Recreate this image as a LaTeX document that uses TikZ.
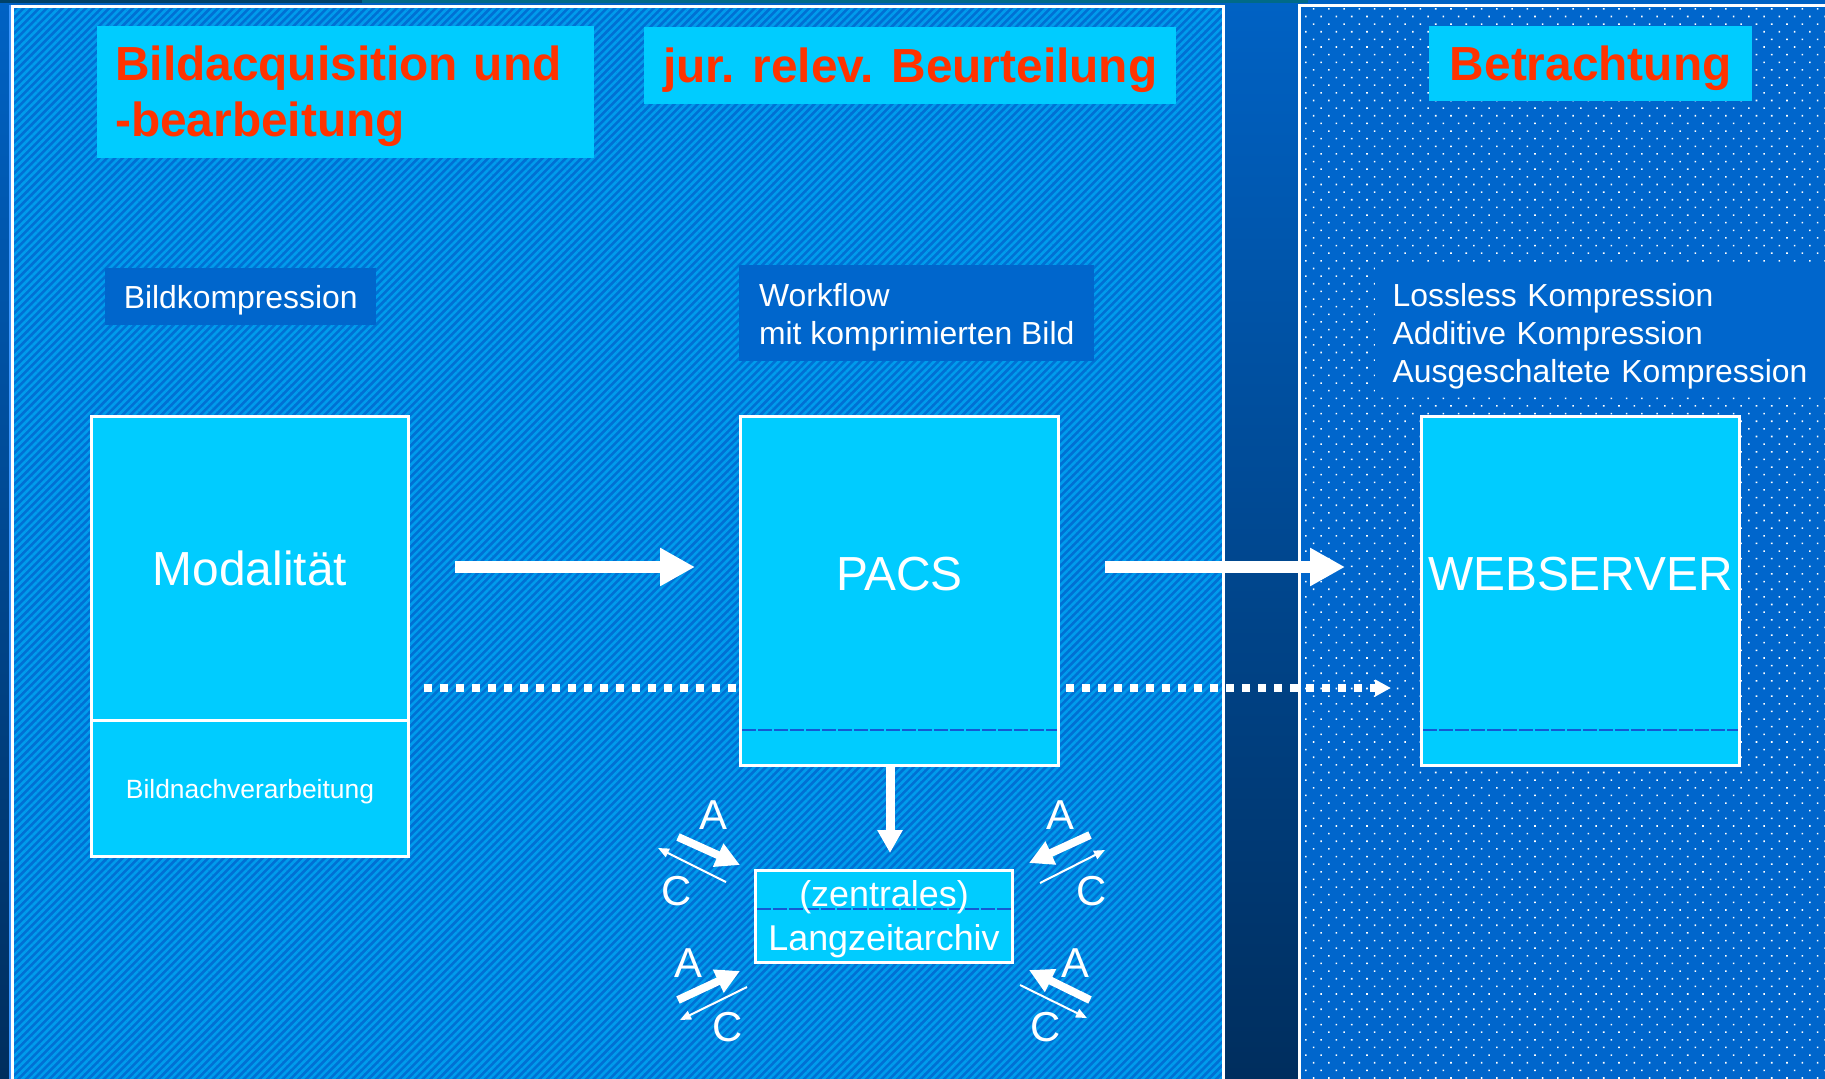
\documentclass[tikz,border=0pt]{standalone}
\usepackage{fontspec}
\setmainfont{Liberation Sans}
\usetikzlibrary{arrows.meta,patterns.meta,calc}

\definecolor{bgtop}{RGB}{0,98,196}
\definecolor{bgbot}{RGB}{0,46,94}
\definecolor{hatchbase}{RGB}{0,112,212}
\definecolor{hatchline}{RGB}{0,156,236}
\definecolor{dotpanel}{RGB}{0,102,204}
\definecolor{boxcyan}{RGB}{0,204,255}
\definecolor{titlered}{RGB}{255,51,0}
\definecolor{labelblue}{RGB}{0,102,204}
\definecolor{sepblue}{RGB}{20,90,210}
\definecolor{topteal}{RGB}{0,106,136}
\definecolor{topdark}{RGB}{0,66,104}
\definecolor{edgeblue}{RGB}{60,150,255}

\begin{document}
\begin{tikzpicture}[x=1bp,y=-1bp,
  titlebox/.style={fill=boxcyan, inner sep=0pt},
  titletext/.style={text=titlered, inner sep=0pt,
    font=\fontsize{48}{56}\selectfont\bfseries},
  labelbox/.style={fill=labelblue, inner sep=0pt},
  labeltext/.style={text=white, inner sep=0pt,
    font=\fontsize{32}{38.5}\selectfont},
  cbox/.style={fill=boxcyan, draw=white, line width=3bp, inner sep=0pt, text=white},
  bigtext/.style={text=white, inner sep=0pt, font=\fontsize{48}{56}\selectfont},
  flow/.style={draw=white, line width=12bp, -{Triangle[length=35bp,width=36bp]}},
  downflow/.style={draw=white, line width=9bp, -{Triangle[length=23bp,width=24bp]}},
  dotflow/.style={draw=white, line width=8bp, dash pattern=on 8bp off 8bp},
  sepline/.style={draw=sepblue, line width=1.2bp, dash pattern=on 14bp off 2bp},
  thickac/.style={draw=white, line width=8bp, -{Triangle[length=24bp,width=24bp]}},
  thinac/.style={draw=white, line width=2bp, -{Triangle[length=11bp,width=9bp]}},
  acletter/.style={text=white, inner sep=0pt, font=\fontsize{42}{48}\selectfont}]

\useasboundingbox (0,0) rectangle (1825,1078);
\clip (0,0) rectangle (1825,1078);

% background and top strip
\shade[top color=bgtop, bottom color=bgbot] (0,0) rectangle (1825,1078);
\fill[topteal] (0,0) rectangle (1308,3);
\fill[topdark] (0,0) rectangle (362,3);

% left panel: diagonal hatching
\fill[hatchbase] (12,6) rectangle (1223,1090);
\fill[pattern={Lines[angle=45,distance=5.5bp,line width=2.6bp]}, pattern color=hatchline]
  (12,6) rectangle (1223,1090);
\draw[edgeblue, line width=2bp] (10,1090) -- (10,5);
\draw[white, line width=3bp] (12.5,1090) -- (12.5,6) -- (1223,6) -- (1223,1090);

% right panel: dotted raster
\fill[dotpanel] (1299,5) rectangle (1830,1090);
\fill[pattern={Dots[angle=45,distance=10.8bp,radius=1.1bp]}, pattern color=white]
  (1299,5) rectangle (1830,1090);
\draw[white, line width=3bp] (1299,1090) -- (1299,5) -- (1830,5);

% headings
\node[titlebox, minimum width=497bp, minimum height=132bp, anchor=north west] (t1) at (97,26) {};
\node[titletext, text width=461bp, align=left] (t1text) at ($(t1.center)+(0,4)$)
  {Bildacquisition und\\-bearbeitung};
\node[titlebox, titletext, text height=34.4bp, text depth=0pt,
  minimum width=532bp, minimum height=77bp, anchor=north west]
  (t2) at (644,27) {jur. relev. Beurteilung};
\node[titlebox, titletext, text height=34.4bp, text depth=0pt,
  minimum width=323bp, minimum height=75bp, anchor=north west]
  (t3) at (1429,26) {Betrachtung};

% notes
\node[labelbox, labeltext, text height=22.9bp, text depth=0pt,
  minimum width=271bp, minimum height=57bp, anchor=north west]
  (lab1) at (105,268) {Bildkompression};
\node[labelbox, minimum width=355bp, minimum height=96bp, anchor=north west] (lab2) at (739,265) {};
\node[labeltext, align=left] (lab2text) at ($(lab2.center)+(0,4)$)
  {Workflow\\mit komprimierten Bild};
\node[labelbox, minimum width=455bp, minimum height=132bp, anchor=north west] (lab3) at (1375,265) {};
\node[labeltext, text width=420bp, align=left] (lab3text) at ($(lab3.center)+(0,5)$)
  {Lossless Kompression\\Additive Kompression\\Ausgeschaltete Kompression};

% main boxes
\node[cbox, bigtext, minimum width=317bp, minimum height=304bp, anchor=north west]
  (mod) at (90,415) {Modalität};
\node[cbox, minimum width=317bp, minimum height=136bp, anchor=north west,
  text height=19bp, text depth=0pt, font=\fontsize{26.5}{30}\selectfont]
  (post) at (90,719) {Bildnachverarbeitung};

\node[cbox, minimum width=318bp, minimum height=349bp, anchor=north west] (pacs) at (739,415) {};
\coordinate (pacssep) at ($(pacs.north)+(0,315)$);
\draw[sepline] ([xshift=3bp]pacs.west |- pacssep) -- ([xshift=-3bp]pacs.east |- pacssep);
\node[bigtext] (pacstext) at ($(pacs.north)+(0,159)$) {PACS};

\node[cbox, minimum width=318bp, minimum height=349bp, anchor=north west] (web) at (1420,415) {};
\coordinate (websep) at ($(web.north)+(0,315)$);
\draw[sepline] ([xshift=3bp]web.west |- websep) -- ([xshift=-3bp]web.east |- websep);
\node[bigtext] (webtext) at ($(web.north)+(0,159)$) {WEBSERVER};

\node[cbox, minimum width=257bp, minimum height=92bp, anchor=north west] (arch) at (754,869) {};
\coordinate (archsep) at ($(arch.north)+(0,40)$);
\draw[sepline] ([xshift=3bp]arch.west |- archsep) -- ([xshift=-3bp]arch.east |- archsep);
\node[text=white, inner sep=0pt, align=center, font=\fontsize{36}{44}\selectfont]
  (archtext) at ($(arch.center)+(0,3)$) {(zentrales)\\Langzeitarchiv};

% connectors
\coordinate (flowrow) at (0,567);
\coordinate (dotrow) at (0,688);
\coordinate (downcol) at (890,0);

\draw[flow, shorten <=45bp, shorten >=44bp] (mod.east |- flowrow) -- (pacs.west |- flowrow);
\draw[flow, shorten <=45bp, shorten >=75bp] (pacs.east |- flowrow) -- (web.west |- flowrow);

\draw[dotflow, shorten <=14bp, shorten >=3bp] (mod.east |- dotrow) -- (pacs.west |- dotrow);
\draw[dotflow, -{Triangle[length=16bp,width=16bp]}, shorten <=6bp, shorten >=29bp]
  (pacs.east |- dotrow) -- (web.west |- dotrow);

\draw[downflow, shorten >=16bp] (pacs.south -| downcol) -- (arch.north -| downcol);

% archive access (A) and return (C) arrows
\coordinate (tlA1) at (678,837);  \coordinate (tlA2) at (740,865);
\coordinate (tlC1) at (726,882);  \coordinate (tlC2) at (658,848);
\coordinate (trA1) at (1090,835); \coordinate (trA2) at (1029,863);
\coordinate (trC1) at (1040,883); \coordinate (trC2) at (1105,850);
\coordinate (blA1) at (678,1000); \coordinate (blA2) at (740,971);
\coordinate (blC1) at (747,987);  \coordinate (blC2) at (680,1020);
\coordinate (brA1) at (1090,1000); \coordinate (brA2) at (1029,970);
\coordinate (brC1) at (1020,985); \coordinate (brC2) at (1087,1018);

\draw[thickac] (tlA1) -- (tlA2);
\draw[thinac] (tlC1) -- (tlC2);
\draw[thickac] (trA1) -- (trA2);
\draw[thinac] (trC1) -- (trC2);
\draw[thickac] (blA1) -- (blA2);
\draw[thinac] (blC1) -- (blC2);
\draw[thickac] (brA1) -- (brA2);
\draw[thinac] (brC1) -- (brC2);

\node[acletter] (tlA) at (713,815) {A};
\node[acletter] (tlC) at (677,891) {C};
\node[acletter] (trA) at (1060,815) {A};
\node[acletter] (trC) at (1092,891) {C};
\node[acletter] (blA) at (688,963) {A};
\node[acletter] (blC) at (728,1027) {C};
\node[acletter] (brA) at (1075,963) {A};
\node[acletter] (brC) at (1046,1027) {C};

\end{tikzpicture}
\end{document}
